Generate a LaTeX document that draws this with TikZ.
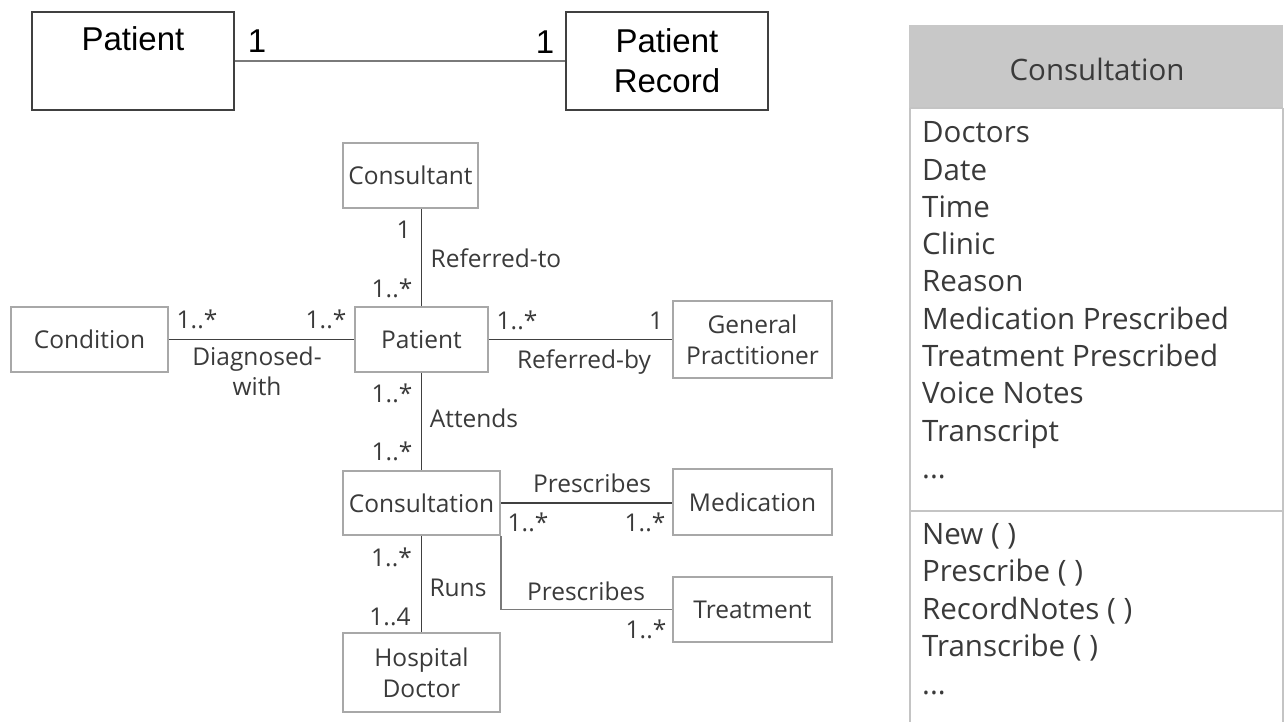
\documentclass[tikz,border=0pt]{standalone}
\usepackage{fontspec}
\setmainfont{Open Sans}
\newfontfamily\arialfont{Liberation Sans}
\definecolor{boxgray}{HTML}{A8A8A8}
\definecolor{txtdark}{HTML}{3A3A3A}
\definecolor{linedark}{HTML}{404040}
\definecolor{linemid}{HTML}{7A7A7A}
\definecolor{hdrgray}{HTML}{C8C8C8}
\definecolor{framegray}{HTML}{C4C4C4}
\newcommand\tlfont{\arialfont\fontsize{33}{40}\selectfont}
\newcommand\mdfont{\fontsize{24.5}{31}\selectfont}
\newcommand\rbfont{\fontsize{29.5}{37}\selectfont}
\begin{document}
\begin{tikzpicture}[x=1pt,y=-1pt,
  tlbox/.style={draw=linedark, line width=1.3pt, inner sep=0pt},
  tltext/.style={font=\tlfont, text=black, inner sep=0pt, align=center},
  umlbox/.style={draw=boxgray, line width=1.5pt, fill=white, inner sep=0pt,
    text=txtdark, font=\mdfont, align=center},
  assoc/.style={draw=linedark, line width=1.8pt},
  lbl/.style={font=\mdfont, text=txtdark, inner sep=0pt, anchor=base},
  rtext/.style={font=\rbfont, text=txtdark, inner sep=0pt, anchor=base west},
  frame/.style={draw=framegray, line width=2pt}]
\useasboundingbox (0,0) rectangle (1287,721);

% ---- simple Patient / Patient Record association ----
\node[tlbox, minimum width=202, minimum height=98] (pa) at (133,61) {};
\node[tltext, anchor=base] (patxt) at (133,50) {Patient};
\node[tlbox, tltext, minimum width=202, minimum height=98] (prec) at (667,61) {Patient\\Record};
\draw[draw=linemid, line width=1.8pt] (pa.east) -- (prec.west);
\node[tltext, anchor=base] (m1) at (257,52) {1};
\node[tltext, anchor=base] (m2) at (545,53) {1};

% ---- class diagram ----
\node[umlbox, minimum width=135, minimum height=65] (cons) at (410.5,175.5) {Consultant};
\node[umlbox, minimum width=133, minimum height=65] (pat) at (421.5,339.5) {Patient};
\node[umlbox, minimum width=157, minimum height=65] (cond) at (89.5,339.5) {Condition};
\node[umlbox, minimum width=159, minimum height=77] (gp) at (752.5,339.5) {General\\Practitioner};
\node[umlbox, minimum width=157, minimum height=64] (consu) at (421.5,503) {Consultation};
\node[umlbox, minimum width=159, minimum height=66] (med) at (752.5,502) {Medication};
\node[umlbox, minimum width=159, minimum height=65] (treat) at (752.5,609.5) {Treatment};
\node[umlbox, minimum width=157, minimum height=79] (hd) at (421.5,672.5) {Hospital\\Doctor};

\draw[assoc] (pat.north) -- (pat.north |- cons.south);
\draw[assoc] (cond.east) -- (pat.west);
\draw[assoc] (pat.east) -- (gp.west);
\draw[assoc] (pat.south) -- (consu.north);
\draw[assoc] (consu.east) -- (consu.east -| med.west);
\draw[draw=linemid, line width=1.8pt] (consu.south east) |- (treat.west);
\draw[assoc] (consu.south) -- (hd.north);

% multiplicities and association names
\node[lbl] (l1) at (403.5,238) {1};
\node[lbl] (l2) at (392,297) {1..*};
\node[lbl] (rt) at (496,267) {Referred-to};
\node[lbl] (l3) at (197,328) {1..*};
\node[lbl] (l4) at (326,328) {1..*};
\node[font=\mdfont, text=txtdark, inner sep=0pt, align=center,
  execute at begin node=\setlength{\baselineskip}{30pt}] (dw) at (257,371) {Diagnosed-\\with};
\node[lbl] (l5) at (517,329) {1..*};
\node[lbl] (l6) at (656,329) {1};
\node[lbl] (rb) at (584,368) {Referred-by};
\node[lbl] (l7) at (392,402) {1..*};
\node[lbl] (at) at (474,427) {Attends};
\node[lbl] (l8) at (392,460) {1..*};
\node[lbl] (pr1) at (592,492) {Prescribes};
\node[lbl] (l9) at (528,531) {1..*};
\node[lbl] (l10) at (645,531) {1..*};
\node[lbl] (l11) at (391.5,566) {1..*};
\node[lbl] (rn) at (458,596) {Runs};
\node[lbl] (l12) at (390,625) {1..4};
\node[lbl] (pr2) at (586,600) {Prescribes};
\node[lbl] (l13) at (646,638) {1..*};

% ---- Consultation class box ----
\node[fill=hdrgray, inner sep=0pt, minimum width=374, minimum height=83, anchor=north west] (hdr) at (909,25) {};
\node[font=\rbfont, text=txtdark, inner sep=0pt, anchor=base] (hdrtxt) at (1097,80) {Consultation};
\draw[frame] (910,108) -- (1283,108);
\draw[frame] (910,108) -- (910,722);
\draw[frame] (1283,108) -- (1283,722);
\draw[frame] (910,511) -- (1283,511);

\foreach \t [count=\i from 0] in {Doctors, Date, Time, Clinic, Reason,
    Medication Prescribed, Treatment Prescribed, Voice Notes, Transcript}
  \node[rtext] (attr\i) at (922,{142.7+\i*37.3}) {\t};
\node[rtext] (attrmore) at (922,478.5) {...};
\foreach \t [count=\i from 0] in {New ( ), Prescribe ( ), RecordNotes ( ), Transcribe ( )}
  \node[rtext] (op\i) at (922,{544+\i*37.5}) {\t};
\node[rtext] (opmore) at (922,694) {...};
\end{tikzpicture}
\end{document}
